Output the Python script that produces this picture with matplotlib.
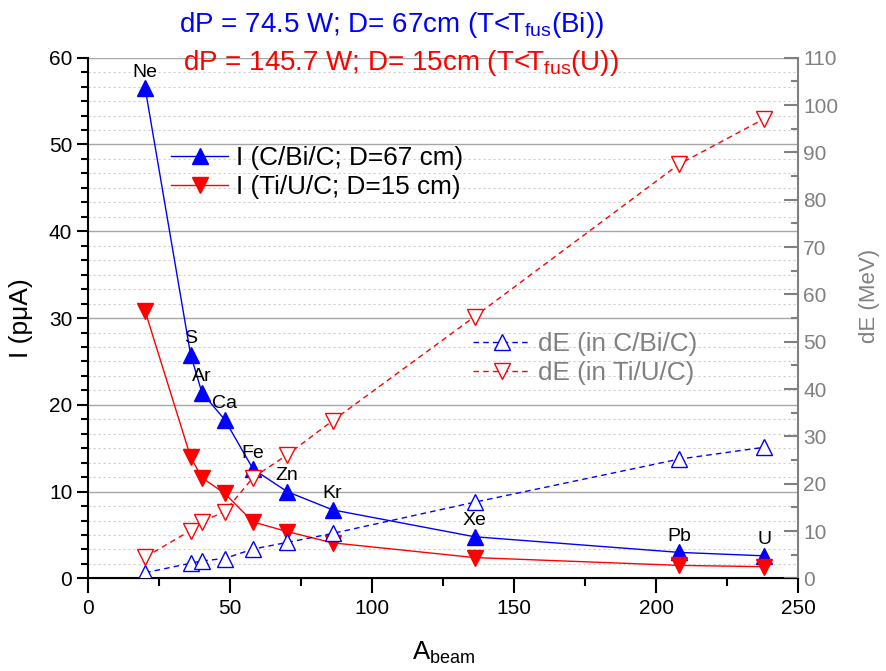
import matplotlib
matplotlib.use("Agg")
import matplotlib.pyplot as plt
from matplotlib.ticker import MultipleLocator

plt.rcParams['font.family'] = ['Liberation Sans', 'DejaVu Sans']
plt.rcParams['mathtext.fontset'] = 'custom'
plt.rcParams['mathtext.rm'] = 'Liberation Sans'
plt.rcParams['mathtext.it'] = 'Liberation Sans:italic'

# beam mass numbers and element names
elements = ["Ne", "S", "Ar", "Ca", "Fe", "Zn", "Kr", "Xe", "Pb", "U"]
a_beam = [20, 36, 40, 48, 58, 70, 86, 136, 208, 238]

# beam intensity (pμA)
i_cbic = [56.5, 25.8, 21.4, 18.3, 12.6, 10.0, 7.9, 4.8, 3.0, 2.6]
i_tiuc = [30.8, 14.0, 11.6, 9.8, 6.5, 5.4, 4.1, 2.4, 1.5, 1.35]

# energy loss (MeV)
de_cbic = [1.2, 3.2, 3.7, 4.2, 6.2, 7.6, 9.5, 16.1, 25.2, 27.7]
de_tiuc = [4.5, 10.1, 12.0, 14.1, 21.3, 26.1, 33.3, 55.3, 87.5, 97.1]

blue = '#0000ff'
red = '#ff0000'
gray = '#808080'

fig = plt.figure(figsize=(8.87, 6.71), dpi=100)
ax = fig.add_axes([0.0996, 0.138, 0.8004, 0.776])
ax2 = ax.twinx()

# left axis: currents
l1, = ax.plot(a_beam, i_cbic, color=blue, lw=1, marker='^', ms=11,
              label='I (C/Bi/C; D=67 cm)')
l2, = ax.plot(a_beam, i_tiuc, color=red, lw=1, marker='v', ms=11,
              label='I (Ti/U/C; D=15 cm)')
for name, x, y in zip(elements, a_beam, i_cbic):
    ax.annotate(name, (x, y), xytext=(0, 11.5), textcoords='offset points',
                ha='center', va='center', fontsize=14)

# right axis: energy loss
l3, = ax2.plot(a_beam, de_cbic, color=blue, lw=1, ls=(0, (4, 3)), marker='^',
               ms=11, mfc='white', mec=blue, label='dE (in C/Bi/C)')
l4, = ax2.plot(a_beam, de_tiuc, color=red, lw=1, ls=(0, (4, 3)), marker='v',
               ms=11, mfc='white', mec=red, label='dE (in Ti/U/C)')

ax.set_xlim(0, 250)
ax.set_ylim(0, 60)
ax2.set_ylim(0, 110)
ax.xaxis.set_major_locator(MultipleLocator(50))
ax.xaxis.set_minor_locator(MultipleLocator(25))
ax.yaxis.set_major_locator(MultipleLocator(10))
ax.yaxis.set_minor_locator(MultipleLocator(10 / 6))
ax2.yaxis.set_major_locator(MultipleLocator(10))
ax2.yaxis.set_minor_locator(MultipleLocator(5))

ax.yaxis.grid(True, which='major', color='#a6a6a6', lw=1, ls='-')
ax.yaxis.grid(True, which='minor', color='#cfcfcf', lw=0.8, ls=(0, (2, 2.5)))
ax.set_axisbelow(True)

ax.spines['top'].set_visible(False)
ax2.spines['top'].set_visible(False)
ax2.spines['left'].set_visible(False)
ax.spines['right'].set_visible(False)
ax2.spines['right'].set_color(gray)
ax2.spines['right'].set_linewidth(1.5)
ax.spines['left'].set_linewidth(1.5)
ax.spines['bottom'].set_linewidth(1.5)

ax.tick_params(axis='both', which='major', labelsize=15, length=8, width=1.5,
               direction='out')
ax.tick_params(axis='both', which='minor', length=5, width=1.5, direction='out')
ax.tick_params(axis='x', which='major', length=11)
ax.tick_params(axis='x', which='minor', length=6)
ax2.tick_params(axis='y', which='major', labelsize=15, length=10, width=1.5,
                direction='in', colors=gray, labelcolor=gray)
ax2.tick_params(axis='y', which='minor', length=5, width=1.5,
                direction='in', colors=gray)

ax.set_xlabel('A$_{\\mathrm{beam}}$', fontsize=18.5, labelpad=16)
ax.set_ylabel('I (pμA)', fontsize=19)
ax.yaxis.set_label_coords(-0.078, 0.5)
ax2.set_ylabel('dE (MeV)', fontsize=16, color=gray)
ax2.yaxis.set_label_coords(1.086, 0.543)

ax.legend(handles=[l1, l2], loc='upper left', bbox_to_anchor=(0.1165, 0.831),
          frameon=False, fontsize=18.8, handlelength=2.18,
          handletextpad=0.31, labelspacing=0.2, borderpad=0,
          borderaxespad=0)
ax2.legend(handles=[l3, l4], loc='upper left', bbox_to_anchor=(0.542, 0.473),
           frameon=False, fontsize=18.8, handlelength=2.18,
           handletextpad=0.31, labelspacing=0.2, borderpad=0,
           borderaxespad=0, labelcolor=gray)

fig.text(179 / 887, 0.9528, 'dP = 74.5 W; D= 67cm (T<T$_{\\mathrm{fus}}$(Bi))',
         color=blue, fontsize=20, ha='left', va='baseline')
fig.text(183 / 887, 0.8957, 'dP = 145.7 W; D= 15cm (T<T$_{\\mathrm{fus}}$(U))',
         color=red, fontsize=20, ha='left', va='baseline')

fig.savefig('out.png', dpi=100)
